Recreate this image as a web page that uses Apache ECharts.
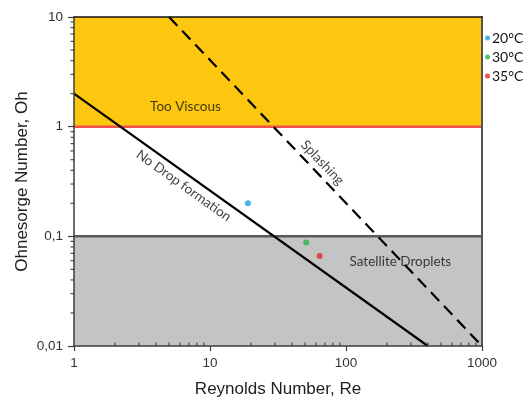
<!DOCTYPE html>
<html>
<head>
<meta charset="utf-8">
<script src="https://cdn.jsdelivr.net/npm/echarts@6/dist/echarts.min.js"></script>
<style>
  html, body { margin: 0; padding: 0; background: #fff; }
  #chart { width: 530px; height: 401px; }
</style>
</head>
<body>
<div id="chart"></div>
<script>
// Printability map: Ohnesorge number vs Reynolds number (log-log)

// Tick values and labels
const xTicks = [1, 10, 100, 1000];
const xTickLabels = ['1', '10', '100', '1000'];
const yTicks = [0.01, 0.1, 1, 10];
const yTickLabels = ['0,01', '0,1', '1', '10'];
const xMinor = [2, 3, 4, 5, 6, 7, 8, 9, 20, 30, 40, 50, 60, 70, 80, 90, 200, 300, 400, 500, 600, 700, 800, 900];
const yMinor = [0.02, 0.03, 0.04, 0.05, 0.06, 0.07, 0.08, 0.09, 0.2, 0.3, 0.4, 0.5, 0.6, 0.7, 0.8, 0.9, 2, 3, 4, 5, 6, 7, 8, 9];

// Regime boundaries
const tooViscousBand = [1, 10];      // Oh range
const satelliteBand = [0.01, 0.1];   // Oh range
const noDropLine = [[1, 2], [400, 0.01]];
const splashLine = [[5, 10], [1000, 0.01]];

// Measured inks
const temps = ['20°C', '30°C', '35°C'];
const reValues = [19, 51, 64];
const ohValues = [0.2, 0.088, 0.066];

// Region captions and where they sit (Re, Oh)
const regionLabels = ['Too Viscous', 'No Drop formation', 'Splashing', 'Satellite Droplets'];
const regionRe = [6.6, 6.4, 67, 251];
const regionOh = [1.52, 0.29, 0.47, 0.059];
const regionFollows = [null, noDropLine, splashLine, null];

const dotColors = ['#1E9FE3', '#2DB34F', '#E8262F'];
const labelFont = 'Lato, "Open Sans", sans-serif';
const axisFont = '"Liberation Sans", Arial, sans-serif';

const X_MIN = 1, X_MAX = 1000, Y_MIN = 0.01, Y_MAX = 10;

const chart = echarts.init(document.getElementById('chart'), null, { renderer: 'canvas' });

function lookup(values, labels, v) {
  for (let i = 0; i < values.length; i++) {
    if (Math.abs(Math.log10(v) - Math.log10(values[i])) < 1e-6) return labels[i];
  }
  return '';
}

function buildOption(angles) {
  const minorData = xMinor.map(v => [v, Y_MIN, 0]).concat(yMinor.map(v => [X_MIN, v, 1]));

  const scatterSeries = temps.map((name, i) => ({
    name: name,
    type: 'scatter',
    data: [[reValues[i], ohValues[i]]],
    symbol: 'circle',
    symbolSize: 6,
    itemStyle: { color: dotColors[i] },
    z: 6
  }));

  return {
    animation: false,
    backgroundColor: '#fff',
    grid: { left: 74, right: 48, top: 17, bottom: 55, outerBoundsMode: 'none' },
    legend: {
      data: temps,
      orient: 'vertical',
      left: 480,
      top: 26,
      icon: 'circle',
      itemWidth: 5,
      itemHeight: 5,
      itemGap: 5,
      selectedMode: false,
      textStyle: { fontFamily: labelFont, fontSize: 14, color: '#111', lineHeight: 14, padding: [0, 0, 0, -3] }
    },
    xAxis: [{
      type: 'log', logBase: 10, min: X_MIN, max: X_MAX, z: 10,
      name: 'Reynolds Number, Re', nameLocation: 'middle', nameGap: 35,
      nameTextStyle: { fontFamily: axisFont, fontSize: 17, color: '#222' },
      axisLine: { lineStyle: { color: '#3c3c3c', width: 1.5 } },
      axisTick: { show: true, length: 5, lineStyle: { color: '#3c3c3c', width: 1.2 } },
      axisLabel: { margin: 10, fontFamily: axisFont, fontSize: 13.5, color: '#333',
                   formatter: v => lookup(xTicks, xTickLabels, v) },
      splitLine: { show: false }
    }, {
      type: 'log', logBase: 10, min: X_MIN, max: X_MAX, position: 'top', z: 10,
      axisLine: { lineStyle: { color: '#111', width: 1.5 } },
      axisTick: { show: false }, axisLabel: { show: false }, splitLine: { show: false }
    }],
    yAxis: [{
      type: 'log', logBase: 10, min: Y_MIN, max: Y_MAX, z: 10,
      name: 'Ohnesorge Number, Oh', nameLocation: 'middle', nameGap: 43, nameMoveOverlap: false,
      nameTextStyle: { fontFamily: axisFont, fontSize: 17, color: '#222' },
      axisLine: { lineStyle: { color: '#3c3c3c', width: 1.5 } },
      axisTick: { show: true, length: 6, lineStyle: { color: '#3c3c3c', width: 1.2 } },
      axisLabel: { margin: 11, fontFamily: axisFont, fontSize: 13.5, color: '#333',
                   formatter: v => lookup(yTicks, yTickLabels, v) },
      splitLine: { show: false }
    }, {
      type: 'log', logBase: 10, min: Y_MIN, max: Y_MAX, position: 'right', z: 10,
      axisLine: { lineStyle: { color: '#555', width: 2 } },
      axisTick: { show: false }, axisLabel: { show: false }, splitLine: { show: false }
    }],
    series: [
      {
        // shaded regimes
        type: 'line', silent: true, symbol: 'none', data: [],
        markArea: {
          silent: true,
          data: [
            [{ coord: [X_MIN, tooViscousBand[0]], itemStyle: { color: '#FDC70F' } }, { coord: [X_MAX, tooViscousBand[1]] }],
            [{ coord: [X_MIN, satelliteBand[0]], itemStyle: { color: '#C4C4C4' } }, { coord: [X_MAX, satelliteBand[1]] }]
          ]
        },
        z: 1
      },
      {
        type: 'line', silent: true, symbol: 'none', z: 3,
        data: [[X_MIN, tooViscousBand[0]], [X_MAX, tooViscousBand[0]]],
        lineStyle: { color: '#F0504C', width: 2.5 }
      },
      {
        type: 'line', silent: true, symbol: 'none', z: 3,
        data: [[X_MIN, satelliteBand[1]], [X_MAX, satelliteBand[1]]],
        lineStyle: { color: '#5a5a5a', width: 2.5 }
      },
      {
        type: 'line', silent: true, symbol: 'none', z: 4,
        data: noDropLine,
        lineStyle: { color: '#000', width: 2.2 }
      },
      {
        type: 'line', silent: true, symbol: 'none', z: 4,
        data: splashLine,
        lineStyle: { color: '#000', width: 2.2, type: [12, 7] }
      },
      {
        // region captions
        type: 'scatter', silent: true, symbolSize: 1, z: 5,
        itemStyle: { color: 'rgba(0,0,0,0)' },
        data: regionLabels.map((t, i) => ({
          value: [regionRe[i], regionOh[i]],
          label: {
            show: true, position: 'inside', formatter: t, rotate: angles[i],
            fontFamily: labelFont, fontSize: 13.5, color: '#111'
          }
        }))
      },
      {
        // minor log ticks
        type: 'custom', silent: true, clip: false, z: 11,
        data: minorData,
        encode: { x: 0, y: 1 },
        renderItem: function (params, api) {
          const p = api.coord([api.value(0), api.value(1)]);
          const onY = api.value(2) === 1;
          return {
            type: 'line',
            shape: onY ? { x1: p[0] - 3.5, y1: p[1], x2: p[0], y2: p[1] }
                       : { x1: p[0], y1: p[1], x2: p[0], y2: p[1] - 3.5 },
            style: { stroke: '#3c3c3c', lineWidth: 1.1 }
          };
        }
      }
    ].concat(scatterSeries)
  };
}

chart.setOption(buildOption(regionLabels.map(() => 0)));

// Turn the boundary captions so they run along their lines
const angles = regionFollows.map(line => {
  if (!line) return 0;
  const a = chart.convertToPixel({ xAxisIndex: 0, yAxisIndex: 0 }, line[0]);
  const b = chart.convertToPixel({ xAxisIndex: 0, yAxisIndex: 0 }, line[1]);
  return -Math.atan2(b[1] - a[1], b[0] - a[0]) * 180 / Math.PI;
});
chart.setOption(buildOption(angles));
</script>
</body>
</html>
